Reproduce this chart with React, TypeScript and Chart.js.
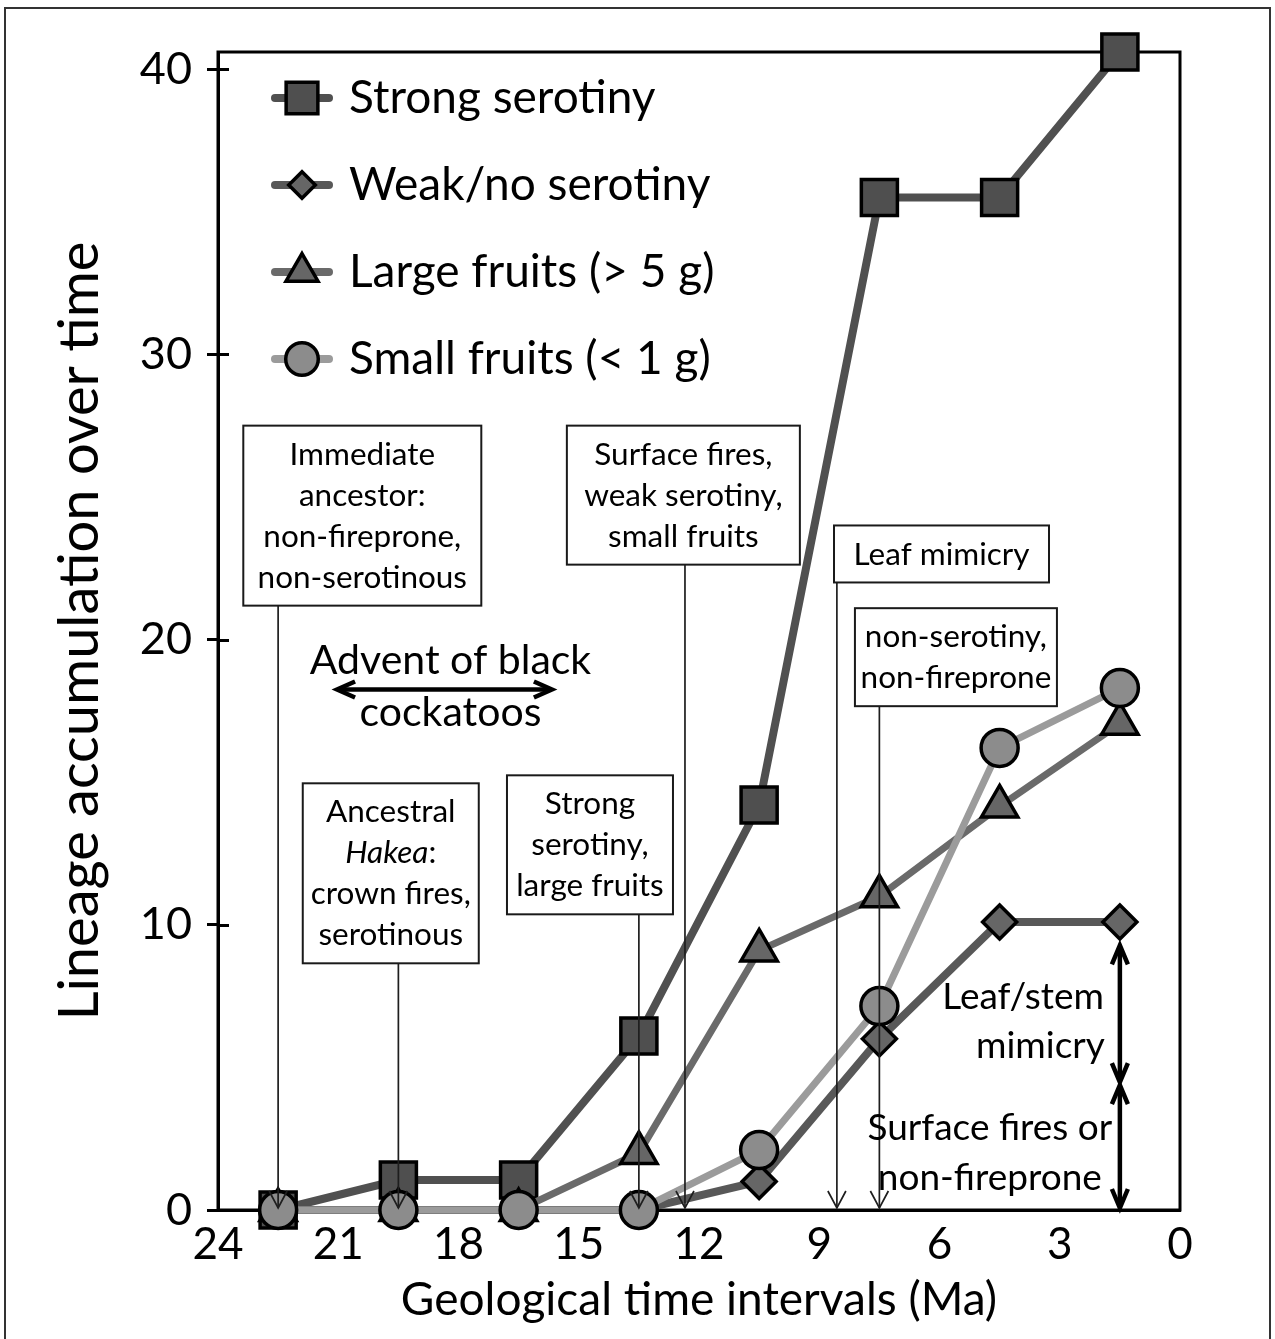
import React, { useEffect, useRef } from "react";
import { Chart, registerables } from "chart.js";
import { drawPoint } from "chart.js/helpers";

Chart.register(...registerables);

const FONT = "Lato, 'Open Sans', sans-serif";

// ---- data ----
const timeMa = [22.5, 19.5, 16.5, 13.5, 10.5, 7.5, 4.5, 1.5];
const strongSerotiny = [0, 1.05, 1.05, 6.1, 14.2, 35.5, 35.5, 40.6];
const weakSerotiny = [0, 0, 0, 0, 1.0, 6.0, 10.1, 10.1];
const largeFruits = [0, 0, 0, 2.0, 9.1, 11.0, 14.15, 17.05];
const smallFruits = [0, 0, 0, 0, 2.1, 7.15, 16.2, 18.3];
const seriesNames = ["Strong serotiny", "Weak/no serotiny", "Large fruits (> 5 g)", "Small fruits (< 1 g)"];
const xTicks = [24, 21, 18, 15, 12, 9, 6, 3, 0];
const yTicks = [0, 10, 20, 30, 40];

// annotation boxes (centre x in Ma, top in lineage units, arrow x in Ma)
const noteBoxes = [
  { lines: ["Immediate", "ancestor:", "non-fireprone,", "non-serotinous"], x: 20.4, top: 27.5, width: 238, arrowX: 22.5 },
  { lines: ["Surface fires,", "weak serotiny,", "small fruits"], x: 12.39, top: 27.5, width: 233, arrowX: 12.35 },
  { lines: ["Leaf mimicry"], x: 5.95, top: 24.0, width: 215, arrowX: 8.56 },
  { lines: ["non-serotiny,", "non-fireprone"], x: 5.59, top: 21.1, width: 202, arrowX: 7.5 },
  { lines: ["Ancestral", "*Hakea*:", "crown fires,", "serotinous"], x: 19.69, top: 14.96, width: 176, arrowX: 19.5 },
  { lines: ["Strong", "serotiny,", "large fruits"], x: 14.72, top: 15.24, width: 166, arrowX: 13.5 },
];

const seriesStyle = [
  { data: strongSerotiny, pointStyle: "rect", radius: 25.5, line: "#505050", fill: "#4f4f4f", width: 8 },
  { data: weakSerotiny, pointStyle: "rectRot", radius: 17, line: "#585858", fill: "#666666", width: 8 },
  { data: largeFruits, pointStyle: "triangle", radius: 21, line: "#6a6a6a", fill: "#666666", width: 7 },
  { data: smallFruits, pointStyle: "circle", radius: 18.5, line: "#9b9b9b", fill: "#8c8c8c", width: 7 },
];

function strokeLine(ctx: CanvasRenderingContext2D, x1: number, y1: number, x2: number, y2: number) {
  ctx.beginPath();
  ctx.moveTo(x1, y1);
  ctx.lineTo(x2, y2);
  ctx.stroke();
}

function arrowHead(ctx: CanvasRenderingContext2D, x: number, y: number, dx: number, dy: number, len: number, half: number) {
  const bx = x - dx * len;
  const by = y - dy * len;
  const px = -dy;
  const py = dx;
  ctx.beginPath();
  ctx.moveTo(bx + px * half, by + py * half);
  ctx.lineTo(x, y);
  ctx.lineTo(bx - px * half, by - py * half);
  ctx.stroke();
}

function drawRichLine(ctx: CanvasRenderingContext2D, text: string, cx: number, cy: number, size: number, align: "center" | "right" = "center") {
  const parts = text.split("*");
  const segs = parts.map((t, i) => ({ t, italic: i % 2 === 1 })).filter((s) => s.t.length);
  const fontFor = (it: boolean) => `${it ? "italic " : ""}${size}px ${FONT}`;
  let total = 0;
  for (const s of segs) {
    ctx.font = fontFor(s.italic);
    total += ctx.measureText(s.t).width;
  }
  let x = align === "center" ? cx - total / 2 : cx - total;
  ctx.textAlign = "left";
  ctx.textBaseline = "middle";
  for (const s of segs) {
    ctx.font = fontFor(s.italic);
    ctx.fillText(s.t, x, cy);
    x += ctx.measureText(s.t).width;
  }
}

const framePlugin = {
  id: "frame",
  beforeDraw(chart: any) {
    const { ctx, width, height } = chart;
    ctx.save();
    ctx.fillStyle = "#fff";
    ctx.fillRect(0, 0, width, height);
    ctx.strokeStyle = "#333";
    ctx.lineWidth = 2;
    ctx.strokeRect(5, 8, width - 10, height);
    ctx.restore();
  },
  beforeDatasetsDraw(chart: any) {
    const { ctx, chartArea, scales } = chart;
    ctx.save();
    ctx.strokeStyle = "#000";
    ctx.lineWidth = 3;
    ctx.strokeRect(chartArea.left, chartArea.top, chartArea.right - chartArea.left, chartArea.bottom - chartArea.top);
    for (const t of scales.y.ticks) {
      const yy = Math.round(scales.y.getPixelForValue(t.value)) + 0.5;
      strokeLine(ctx, chartArea.left, yy, chartArea.left + 11, yy);
    }
    ctx.restore();
  },
};

const notesPlugin = {
  id: "notes",
  afterDatasetsDraw(chart: any) {
    const { ctx, scales } = chart;
    const px = (v: number) => scales.x.getPixelForValue(v);
    const py = (v: number) => scales.y.getPixelForValue(v);
    const base = py(0) - 2;
    ctx.save();
    ctx.lineCap = "butt";
    ctx.lineJoin = "miter";

    for (const b of noteBoxes) {
      const n = b.lines.length;
      const h = n * 41 + 16;
      const top = py(b.top);
      const left = px(b.x) - b.width / 2;
      const ax = px(b.arrowX);
      ctx.strokeStyle = "#1e1e1e";
      ctx.lineWidth = 1.7;
      strokeLine(ctx, ax, top + h, ax, base);
      arrowHead(ctx, ax, base, 0, 1, 17, 9);
      ctx.fillStyle = "#fff";
      ctx.fillRect(left, top, b.width, h);
      ctx.lineWidth = 2;
      ctx.strokeStyle = "#1a1a1a";
      ctx.strokeRect(left, top, b.width, h);
      ctx.fillStyle = "#000";
      b.lines.forEach((ln, i) => {
        drawRichLine(ctx, ln, left + b.width / 2, top + 8 + 21 + i * 41, 31.5);
      });
    }

    // Advent of black cockatoos
    ctx.fillStyle = "#000";
    drawRichLine(ctx, "Advent of black", px(18.2), py(19.26), 41);
    drawRichLine(ctx, "cockatoos", px(18.2), py(17.44), 41);
    ctx.strokeStyle = "#000";
    ctx.lineWidth = 4.5;
    const ay = py(18.25);
    const x1 = px(21.03);
    const x2 = px(15.67);
    strokeLine(ctx, x1 + 2, ay, x2 - 2, ay);
    arrowHead(ctx, x1, ay, -1, 0, 18, 8);
    arrowHead(ctx, x2, ay, 1, 0, 18, 8);

    // right-hand vertical double arrows
    const vx = px(1.5);
    const t1 = py(9.28);
    const m1 = py(4.48);
    const m2 = py(4.38);
    strokeLine(ctx, vx, t1 + 2, vx, m1 - 2);
    arrowHead(ctx, vx, t1, 0, -1, 19, 8);
    arrowHead(ctx, vx, m1, 0, 1, 19, 8);
    strokeLine(ctx, vx, m2 + 2, vx, base - 2);
    arrowHead(ctx, vx, m2, 0, -1, 19, 8);
    arrowHead(ctx, vx, base, 0, 1, 19, 8);

    ctx.fillStyle = "#000";
    drawRichLine(ctx, "Leaf/stem", vx - 16, py(7.45), 37, "right");
    drawRichLine(ctx, "mimicry", vx - 15, py(5.76), 37, "right");
    drawRichLine(ctx, "Surface fires or", vx - 130, py(2.87), 37);
    drawRichLine(ctx, "non-fireprone", vx - 130, py(1.12), 37);
    ctx.restore();
  },
};

const legendPlugin = {
  id: "customLegend",
  afterDatasetsDraw(chart: any) {
    const { ctx, chartArea } = chart;
    ctx.save();
    chart.data.datasets.forEach((ds: any, i: number) => {
      const cy = chartArea.top + 46 + i * 87;
      const mx = chartArea.left + 84;
      ctx.strokeStyle = ds.borderColor;
      ctx.lineWidth = 8;
      ctx.lineCap = "round";
      strokeLine(ctx, mx - 27, cy, mx + 27, cy);
      ctx.lineCap = "butt";
      ctx.fillStyle = ds.pointBackgroundColor;
      ctx.strokeStyle = "#000";
      ctx.lineWidth = 3.5;
      const scale = ds.pointStyle === "rectRot" ? 0.78 : 0.88;
      drawPoint(ctx, { pointStyle: ds.pointStyle, radius: ds.pointRadius * scale, borderWidth: 3.5, rotation: 0 } as any, mx, cy);
      ctx.fillStyle = "#000";
      ctx.font = `46px ${FONT}`;
      ctx.textAlign = "left";
      ctx.textBaseline = "middle";
      ctx.fillText(ds.label, chartArea.left + 131, cy);
    });
    ctx.restore();
  },
};

export default function App() {
  const ref = useRef<HTMLCanvasElement>(null);
  useEffect(() => {
    const canvas = ref.current;
    if (!canvas) return;
    Chart.defaults.color = "#000";
    const datasets = seriesStyle.map((s, i) => ({
      label: seriesNames[i],
      data: timeMa.map((t, j) => ({ x: t, y: s.data[j] })),
      borderColor: s.line,
      borderWidth: s.width,
      pointStyle: s.pointStyle,
      pointRadius: s.radius,
      pointHoverRadius: s.radius,
      pointBackgroundColor: s.fill,
      pointBorderColor: "#000",
      pointBorderWidth: 3.5,
      order: 4 - i,
      clip: false,
      tension: 0,
      fill: false,
    }));
    const chart = new Chart(canvas, {
      type: "line",
      data: { datasets: datasets as any },
      plugins: [framePlugin, notesPlugin, legendPlugin],
      options: {
        responsive: false,
        animation: false,
        events: [],
        layout: { padding: { left: 0, top: 52, right: 95, bottom: 0 } },
        plugins: { legend: { display: false }, tooltip: { enabled: false } },
        scales: {
          x: {
            type: "linear",
            reverse: true,
            min: 0,
            max: 24,
            afterBuildTicks: (scale: any) => {
              scale.ticks = xTicks.map((v) => ({ value: v }));
            },
            afterFit: (scale: any) => {
              scale.height = 129;
              scale.paddingLeft = 0;
              scale.paddingRight = 0;
            },
            grid: { display: false, drawTicks: false },
            border: { display: true, color: "#000", width: 3 },
            ticks: { font: { family: FONT, size: 44 }, color: "#000", padding: 8, maxRotation: 0, autoSkip: false },
            title: {
              display: true,
              text: "Geological time intervals (Ma)",
              font: { family: FONT, size: 46 },
              color: "#000",
              padding: { top: 0, bottom: 11 },
            },
          },
          y: {
            type: "linear",
            min: 0,
            max: 40.6,
            afterBuildTicks: (scale: any) => {
              scale.ticks = yTicks.map((v) => ({ value: v }));
            },
            afterFit: (scale: any) => {
              scale.width = 218;
              scale.paddingTop = 0;
              scale.paddingBottom = 0;
            },
            grid: { display: true, drawOnChartArea: false, drawTicks: true, tickLength: 11, color: "#000", lineWidth: 3 },
            border: { display: true, color: "#000", width: 3 },
            ticks: { font: { family: FONT, size: 45 }, color: "#000", padding: 15, autoSkip: false },
            title: {
              display: true,
              text: "Lineage accumulation over time",
              font: { family: FONT, size: 56 },
              color: "#000",
              padding: { top: 46, bottom: 0 },
            },
          },
        },
      },
    });
    return () => chart.destroy();
  }, []);
  return (
    <div style={{ position: "absolute", left: 0, top: 0, width: 1275, height: 1339, background: "#fff" }}>
      <canvas ref={ref} width={1275} height={1339} style={{ display: "block" }} />
    </div>
  );
}
